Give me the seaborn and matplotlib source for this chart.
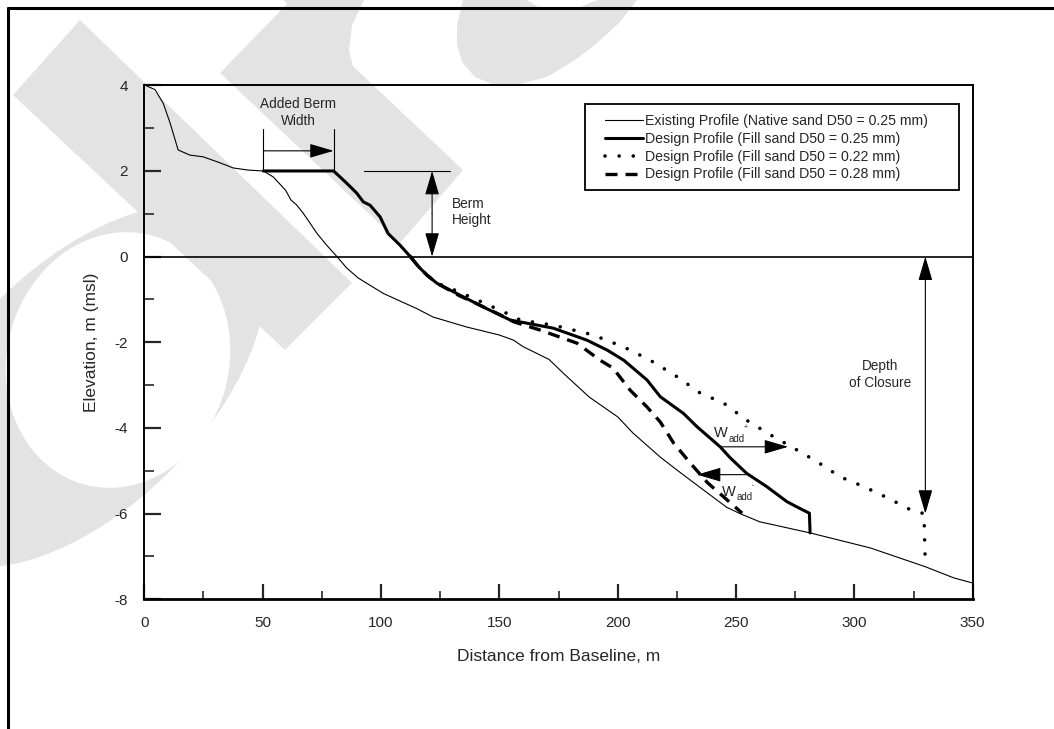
import numpy as np
import pandas as pd
import matplotlib
matplotlib.use("Agg")
import matplotlib.pyplot as plt
import seaborn as sns
from matplotlib.patches import Polygon, Ellipse, Rectangle
from matplotlib.lines import Line2D
from matplotlib.transforms import IdentityTransform

#------------------------------ data ------------------------------
existing_x = [0.4, 4.5, 8, 10.9, 14.3, 19.3, 24.9, 32, 37.6, 44, 50.3, 54.5, 59.7, 62, 64.3, 67.2,
              73, 77, 81.4, 85.6, 90.4, 101, 115, 122, 136, 150, 156, 160, 171, 177, 188, 200,
              206.5, 218, 225, 238, 246, 251.7, 260, 281.3, 306.7, 330, 342, 350]
existing_y = [4.0, 3.9, 3.58, 3.12, 2.49, 2.37, 2.33, 2.19, 2.07, 2.02, 2.0, 1.86, 1.55, 1.32, 1.21, 1.01,
              0.54, 0.27, 0.0, -0.27, -0.5, -0.86, -1.21, -1.41, -1.64, -1.83, -1.95, -2.1, -2.4, -2.72, -3.28, -3.74,
              -4.12, -4.68, -4.98, -5.52, -5.85, -6.0, -6.19, -6.45, -6.8, -7.24, -7.5, -7.62]

d025_x = [50.3, 80, 85.6, 89.8, 92.5, 95.4, 99.6, 103, 108, 112.4, 115.8, 119.4, 123.6, 133.4, 143, 154.6,
          172.8, 187, 195.5, 202.6, 212.4, 218, 227.8, 233.5, 243.3, 247.6, 254.5, 263, 271.5, 275.6, 281, 281.3]
d025_y = [2.0, 2.0, 1.71, 1.48, 1.28, 1.2, 0.93, 0.54, 0.27, 0.0, -0.23, -0.43, -0.62, -0.9, -1.17, -1.48,
          -1.67, -1.95, -2.18, -2.42, -2.88, -3.27, -3.66, -3.97, -4.44, -4.7, -5.06, -5.37, -5.72, -5.84, -5.99, -6.45]

d022_x = [112.4, 115.8, 119.4, 123.6, 129, 139, 154.6, 158.8, 172.8, 187, 195.5, 205.3, 215, 225, 235,
          244.8, 254.5, 264.5, 274.4, 284.3, 294, 304, 314, 323.7, 329.4, 330]
d022_y = [0.0, -0.23, -0.43, -0.62, -0.73, -0.97, -1.36, -1.48, -1.6, -1.79, -1.95, -2.18, -2.46, -2.8, -3.19,
          -3.42, -3.82, -4.16, -4.47, -4.79, -5.14, -5.37, -5.63, -5.91, -6.0, -7.24]

d028_x = [112.4, 115.8, 119.4, 123.6, 133.4, 139, 150.4, 156, 167, 182.8, 192.6, 198, 205.3, 212.4, 218,
          223.6, 230.7, 238, 244.8, 252.6]
d028_y = [0.0, -0.23, -0.43, -0.62, -0.92, -1.06, -1.36, -1.52, -1.71, -2.02, -2.42, -2.6, -3.12, -3.51, -3.86,
          -4.35, -4.82, -5.28, -5.61, -5.99]

labels = ["Existing Profile (Native sand D50 = 0.25 mm)",
          "Design Profile (Fill sand D50 = 0.25 mm)",
          "Design Profile (Fill sand D50 = 0.22 mm)",
          "Design Profile (Fill sand D50 = 0.28 mm)"]

x_ticks = [0, 50, 100, 150, 200, 250, 300, 350]
y_ticks = [-8, -6, -4, -2, 0, 2, 4]

#------------------------------ style ------------------------------
sns.set_theme(style="white")
plt.rcParams['font.family'] = ['Liberation Sans', 'DejaVu Sans']
plt.rcParams['axes.unicode_minus'] = False

W, H = 1054, 729
fig = plt.figure(figsize=(W / 100, H / 100), dpi=100)
fig.patch.set_facecolor('white')

# light grey watermark behind the chart (pixel coords, y from top)
wm = '#e3e3e3'
def px(pts):
    return [(x, H - y) for x, y in pts]

fig.add_artist(Ellipse((84, H - 386), 452, 242, angle=45, facecolor=wm, edgecolor='none',
                       transform=IdentityTransform(), zorder=-3))
fig.add_artist(Ellipse((118, H - 360), 222, 258, angle=-15, facecolor='white', edgecolor='none',
                       transform=IdentityTransform(), zorder=-2.5))
for poly in [
    [(80, 20), (352, 283), (285, 350), (13, 95)],
    [(287, 4), (463, 170), (400, 243), (220, 73)],
    [(283, 0), (364, 0), (352, 25), (349, 50), (355, 75), (368, 92), (380, 100), (380, 93)],
    [(463, 0), (457, 25), (457, 45), (462, 62), (475, 77), (497, 86), (520, 84), (547, 77),
     (575, 60), (597, 43), (620, 22), (637, 0), (597, 0), (580, 7), (560, 10), (543, 10), (527, 0)],
]:
    fig.add_artist(Polygon(px(poly), closed=True, facecolor=wm, edgecolor='none',
                           transform=IdentityTransform(), zorder=-2))

# outer frame (top and left edges)
fig.add_artist(Line2D([8 / W, 1], [1 - 8 / H, 1 - 8 / H], color='black', lw=2.2))
fig.add_artist(Line2D([8 / W, 8 / W], [0, 1 - 8 / H], color='black', lw=2.2))

ax = fig.add_axes([144.3 / W, 1 - 599.3 / H, 828.4 / W, 514 / H])
ax.set_facecolor('none')

#------------------------------ profiles ------------------------------
sns.lineplot(x=existing_x, y=existing_y, ax=ax, color='black', lw=0.8, sort=False,
             estimator=None, label=labels[0])
sns.lineplot(x=d025_x, y=d025_y, ax=ax, color='black', lw=2.2, sort=False,
             estimator=None, label=labels[1])
sns.lineplot(x=d022_x, y=d022_y, ax=ax, color='black', lw=2.6, sort=False, estimator=None,
             label=labels[2], dashes=False, linestyle=(0, (0.01, 3.9)), dash_capstyle='round')
sns.lineplot(x=d028_x, y=d028_y, ax=ax, color='black', lw=2.4, sort=False, estimator=None,
             label=labels[3], linestyle=(0, (3.6, 2.4)))

ax.axhline(0, color='black', lw=1.2, zorder=1)

ax.set_xlim(0, 350)
ax.set_ylim(-8, 4)
ax.set_xticks(x_ticks)
ax.set_xticks(range(25, 350, 50), minor=True)
ax.set_yticks(y_ticks)
ax.set_yticks(range(-7, 4, 2), minor=True)
ax.set_xticklabels([str(v) for v in x_ticks])
ax.set_yticklabels([str(v) for v in y_ticks])

ax.tick_params(axis='x', which='major', direction='in', length=11, width=1.6, pad=12,
               labelsize=11, bottom=True, top=False)
ax.tick_params(axis='x', which='minor', direction='in', length=6, width=1.2, bottom=True, top=False)
ax.tick_params(axis='y', which='major', direction='in', length=12, width=1.6, pad=12,
               labelsize=11, left=True, right=False)
ax.tick_params(axis='y', which='minor', direction='in', length=7, width=1.2, left=True, right=False)

for side, lw in [('bottom', 2.0), ('left', 1.4), ('top', 1.4), ('right', 1.4)]:
    ax.spines[side].set_color('black')
    ax.spines[side].set_linewidth(lw)

ax.set_xlabel('Distance from Baseline, m', fontsize=12.5, labelpad=14)
ax.set_ylabel('Elevation, m (msl)', fontsize=12.5, labelpad=11)

# legend without its own frame; box drawn separately
ax_w, ax_h = 828.4, 514.0
leg = ax.legend(loc='upper left', bbox_to_anchor=((605 - 144.3) / ax_w, (599.3 - 114) / ax_h),
                fontsize=10.2, frameon=False, handlelength=2.65, handletextpad=0.2,
                labelspacing=0.27, borderpad=0, borderaxespad=0)
ax.add_patch(Rectangle(((585 - 144.3) / ax_w, (599.3 - 190) / ax_h), 374 / ax_w, 86 / ax_h,
                       transform=ax.transAxes, fill=False, edgecolor='black', lw=1.3, zorder=5))

#------------------------------ annotations ------------------------------
def arrow(x0, y0, x1, y1, style='-|>'):
    ax.annotate('', xy=(x1, y1), xytext=(x0, y0),
                arrowprops=dict(arrowstyle=f'{style},head_length=0.75,head_width=0.22',
                                mutation_scale=20, color='black', lw=0.8,
                                shrinkA=0, shrinkB=0))

# added berm width
ax.plot([50.3, 50.3], [2.0, 2.98], color='black', lw=0.8)
ax.plot([80, 80], [2.0, 2.98], color='black', lw=0.8)
arrow(50.3, 2.47, 80, 2.47)
ax.text(65, 3.36, 'Added Berm\nWidth', ha='center', va='center', fontsize=9.8, linespacing=1.25)

# berm height
ax.plot([93, 129], [2.0, 2.0], color='black', lw=0.8)
arrow(121.6, 1.0, 121.6, 2.0)
arrow(121.6, 1.0, 121.6, 0.0)
ax.text(130, 1.04, 'Berm\nHeight', ha='left', va='center', fontsize=9.8, linespacing=1.25)

# depth of closure
arrow(330, -3.0, 330, 0.0)
arrow(330, -3.0, 330, -6.0)
ax.text(311, -2.76, 'Depth\nof Closure', ha='center', va='center', fontsize=9.8, linespacing=1.25)

# W_add arrows
arrow(243.3, -4.44, 272, -4.44)
ax.text(243.7, -4.12, 'W', ha='center', va='center', fontsize=10.5)
ax.text(250.3, -4.26, 'add', ha='center', va='center', fontsize=7)
ax.text(254.2, -3.98, '+', ha='center', va='center', fontsize=5)
arrow(254.5, -5.09, 233.5, -5.09)
ax.text(247.1, -5.49, 'W', ha='center', va='center', fontsize=10.5)
ax.text(253.6, -5.6, 'add', ha='center', va='center', fontsize=7)
ax.text(257.2, -5.35, '-', ha='center', va='center', fontsize=5)

fig.savefig('out.png', dpi=100)
